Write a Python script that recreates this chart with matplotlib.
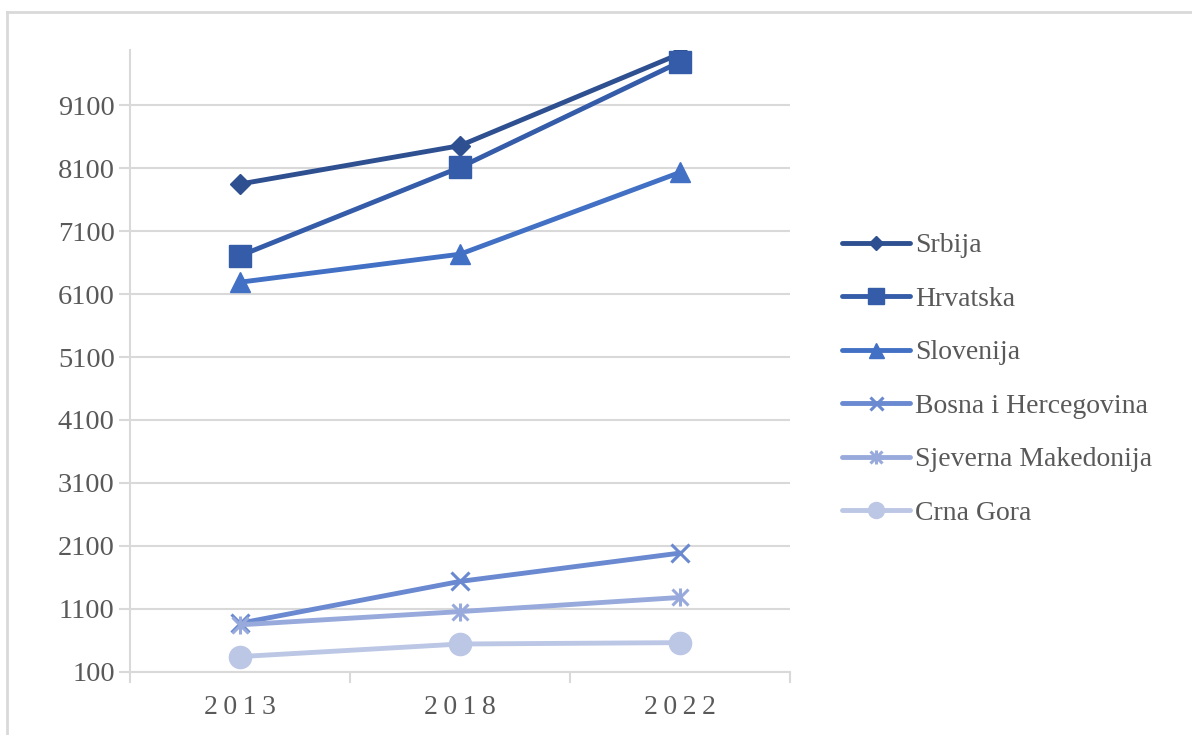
import matplotlib
matplotlib.use("Agg")
import matplotlib.pyplot as plt
from matplotlib.lines import Line2D
from matplotlib.legend_handler import HandlerTuple

years = ["2013", "2018", "2022"]
series_names = ["Srbija", "Hrvatska", "Slovenija", "Bosna i Hercegovina",
                "Sjeverna Makedonija", "Crna Gora"]
srbija = [7850, 8460, 9920]
hrvatska = [6710, 8115, 9790]
slovenija = [6290, 6735, 8035]
bih = [870, 1535, 1985]
smk = [845, 1055, 1280]
crna_gora = [340, 540, 562]
yticks = [100, 1100, 2100, 3100, 4100, 5100, 6100, 7100, 8100, 9100]

values = [srbija, hrvatska, slovenija, bih, smk, crna_gora]
colors = ["#2E5090", "#355CA8", "#4170C4", "#6A89D0", "#98AADC", "#BCC7E6"]
markers = ["D", "s", "^", "x", "x", "o"]
msizes = [10.5, 15.5, 15, 13, 12, 16]
extra = [None, None, None, None, "|", None]

plt.rcParams['font.family'] = ['Liberation Serif', 'DejaVu Serif']
fig = plt.figure(figsize=(11.92, 7.35), dpi=100)
ax = fig.add_axes([130/1192, 1-671.7/735, (790-130)/1192, (671.7-50)/735])

x = list(range(len(years)))
handles = []
for name, vals, c, m, ms, ex in zip(series_names, values, colors, markers,
                                   msizes, extra):
    mew = 2.2 if m == "x" else 1
    ax.plot(x, vals, color=c, lw=3.5, marker=m, markersize=ms,
            markeredgewidth=mew, markeredgecolor=c, markerfacecolor=c,
            solid_capstyle='round', zorder=3)
    h = Line2D([0], [0], color=c, lw=3.5, marker=m, markersize=ms * 0.72,
               markeredgecolor=c, markerfacecolor=c, markeredgewidth=mew,
               solid_capstyle='round')
    if ex is not None:
        ax.plot(x, vals, linestyle="none", marker=ex, markersize=ms * 1.1,
                markeredgewidth=2.2, color=c, zorder=4)
        h2 = Line2D([0], [0], linestyle="none", marker=ex,
                    markersize=ms * 0.72 * 1.1, markeredgewidth=2.2, color=c)
        h = (h, h2)
    handles.append(h)

ax.set_xlim(-0.5, 2.5)
ax.set_ylim(100, 9980)
ax.set_yticks(yticks)
ax.set_yticklabels([str(t) for t in yticks])
ax.yaxis.grid(True, color="#D9D9D9", lw=1.5)
ax.set_axisbelow(True)

ax.set_xticks([-0.5, 0.5, 1.5, 2.5])
ax.set_xticklabels([])
ax.set_xticks(x, minor=True)
ax.set_xticklabels(["\u2009".join(y) for y in years], minor=True)
ax.tick_params(axis='x', which='major', length=8, width=1.5, color="#D9D9D9")
ax.tick_params(axis='x', which='minor', length=0, pad=17, labelsize=20,
               labelcolor="#595959")
ax.tick_params(axis='y', length=8, width=1.5, color="#D9D9D9", labelsize=20.5,
               labelcolor="#595959", pad=3)

for s in ["top", "right"]:
    ax.spines[s].set_visible(False)
for s in ["left", "bottom"]:
    ax.spines[s].set_color("#D9D9D9")
    ax.spines[s].set_linewidth(1.5)

leg = fig.legend(handles, series_names, loc="upper left",
                 bbox_to_anchor=(842/1192, 1-233/735), frameon=False,
                 fontsize=20, labelspacing=1.01, handlelength=2.45,
                 handletextpad=0.18, borderpad=0, borderaxespad=0,
                 labelcolor="#595959",
                 handler_map={tuple: HandlerTuple(ndivide=1, pad=0)})

# outer frame
fig.add_artist(Line2D([7/1192, 7/1192], [0, 1-12/735],
                      transform=fig.transFigure, color="#D9D9D9", lw=2))
fig.add_artist(Line2D([7/1192, 1], [1-12/735, 1-12/735],
                      transform=fig.transFigure, color="#D9D9D9", lw=2))

fig.savefig("out.png", dpi=100, facecolor="white")
